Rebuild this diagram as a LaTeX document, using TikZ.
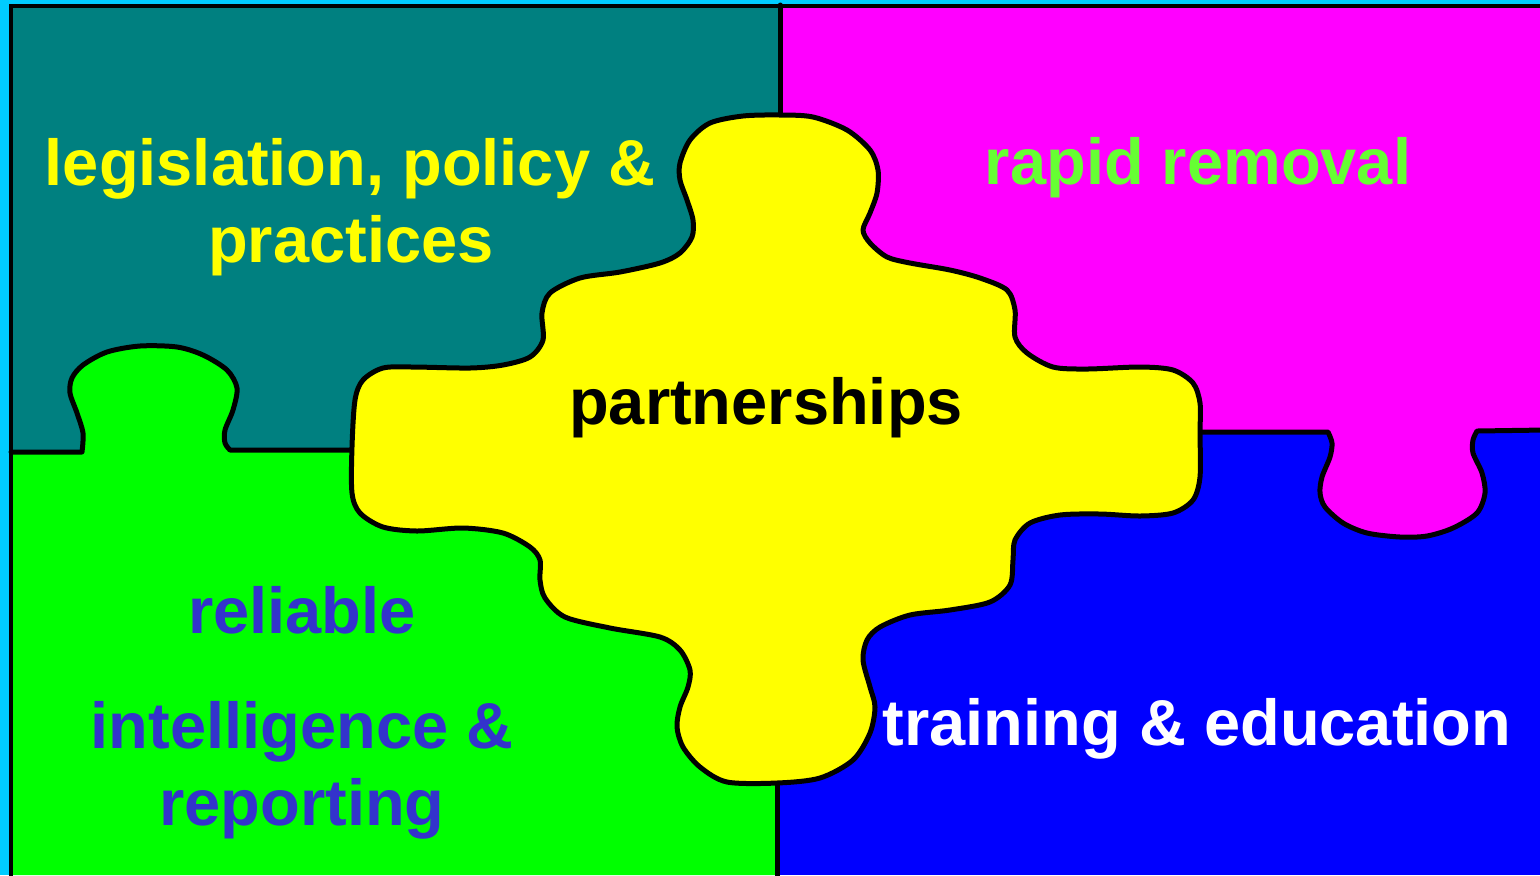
\documentclass[tikz,border=0pt]{standalone}
\usepackage{fontspec}
\setmainfont{Liberation Sans}
\definecolor{bgcyan}{HTML}{00CCFF}
\definecolor{teal1}{HTML}{008080}
\definecolor{mag1}{HTML}{FF00FF}
\definecolor{grn1}{HTML}{00FF00}
\definecolor{blu1}{HTML}{0000FF}
\definecolor{yel1}{HTML}{FFFF00}
\definecolor{rgreen}{HTML}{66FF33}
\definecolor{rblue}{HTML}{3333CC}
\tikzset{
  outline/.style={line width=2.5pt, line join=round, line cap=round},
  label/.style={font=\fontsize{32.5}{38}\selectfont\bfseries, anchor=base, inner sep=0pt},
}
\begin{document}
\begin{tikzpicture}[x=0.5pt,y=-0.5pt]
\useasboundingbox (0,0) rectangle (1540,875);
\fill[bgcyan] (0,0) rectangle (1540,875);
% teal top-left
\fill[teal1] (11,5) rectangle (780,452);
% green bottom-left with tab
\fill[grn1] (11,452) -- plot[smooth] coordinates {(82,452) (83,433) (77,413) (70,393) (72,378) (83,365) (107,352) (140,346) (177,347) (203,355) (227,370) (237,388) (233,410) (225,430) (225,443) (230,450)} -- (777,450) -- (777,875) -- (11,875) -- cycle;
% blue bottom-right
\fill[blu1] (777,432) rectangle (1540,875);
% magenta top-right with tab
\fill[mag1] (780,5) -- (1540,5) -- (1540,430) -- plot[smooth] coordinates {(1477,431) (1473,440) (1473,453) (1482,473) (1485,493) (1477,513) (1453,528) (1427,536) (1400,537) (1367,533) (1343,523) (1325,507) (1320,493) (1322,477) (1330,457) (1332,443) (1328,432)} -- (780,432) -- cycle;
% divider lines
\draw[outline] (11,452) -- plot[smooth] coordinates {(82,452) (83,433) (77,413) (70,393) (72,378) (83,365) (107,352) (140,346) (177,347) (203,355) (227,370) (237,388) (233,410) (225,430) (225,443) (230,450)} -- (380,450);
\draw[outline] (1180,432) -- plot[smooth] coordinates {(1328,432) (1332,443) (1330,457) (1322,477) (1320,493) (1325,507) (1343,523) (1367,533) (1400,537) (1427,536) (1453,528) (1477,513) (1485,493) (1482,473) (1473,453) (1473,440) (1477,431)} -- (1545,430);
\draw[outline] (780,5) -- (780,140);
\draw[outline] (777,760) -- (777,880);
% yellow centre piece
\filldraw[fill=yel1, outline] plot[smooth cycle] coordinates {
(743,116) (780,115) (813,117) (847,130) (870,150) (878,170) (877,193) (870,213) (863,230) (870,243) (887,257) (910,263) (950,270) (980,278) (1007,290) (1015,310) (1015,337) (1027,353) (1053,367) (1087,369) (1140,367) (1173,370) (1193,383) (1200,403) (1200,433) (1200,477) (1193,500) (1173,513) (1140,516) (1100,514) (1060,515) (1030,523) (1015,540) (1013,560) (1010,585) (990,602) (950,610) (910,615) (880,627) (867,640) (863,660) (870,687) (875,707) (870,733) (853,760) (820,778) (777,783) (727,782) (700,767) (683,747) (677,727) (680,707) (688,687) (690,670) (680,650) (660,637) (610,628) (565,617) (545,598) (540,580) (540,560) (530,547) (503,533) (463,528) (417,531) (383,527) (360,513) (352,493) (352,447) (355,400) (363,380) (383,368) (413,367) (470,368) (503,365) (530,357) (543,340) (542,313) (550,293) (580,278) (620,272) (660,263) (680,253) (692,237) (693,220) (687,200) (680,180) (680,163) (690,140) (710,123)};
% outer frame
\draw[line width=2.3pt] (11,880) -- (11,6) -- (1545,6);
% texts
\node[label, text=yel1] (leg1) at (350,185) {legislation, policy \&};
\node[label, text=yel1] (leg2) at (351,262) {practices};
\node[label, text=rgreen] (rapid) at (1198,184) {rapid removal};
\node[label, text=black] (part) at (766,424) {partnerships};
\node[label, text=rblue] (rel1) at (302,633) {reliable};
\node[label, text=rblue] (rel2) at (302,748) {intelligence \&};
\node[label, text=rblue] (rel3) at (302,825) {reporting};
\node[label, text=white] (train) at (1197,745) {training \& education};
\end{tikzpicture}
\end{document}
